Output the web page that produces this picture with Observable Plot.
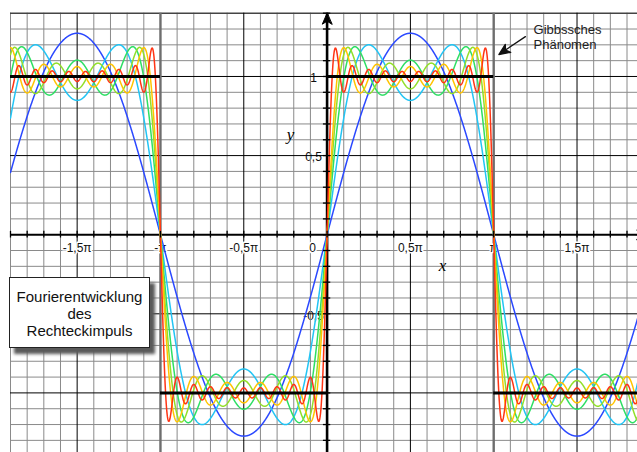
<!DOCTYPE html>
<html>
<head>
<meta charset="utf-8">
<script src="https://cdn.jsdelivr.net/npm/d3@7"></script>
<script src="https://cdn.jsdelivr.net/npm/@observablehq/plot@0.6"></script>
<style>
  html, body { margin: 0; padding: 0; background: #fff; }
  #chart { position: relative; width: 637px; height: 452px; overflow: hidden; }
  #chart svg { display: block; }
  .note {
    position: absolute; left: 9px; top: 277px; width: 141px; height: 71px;
    box-sizing: border-box; border: 1px solid #222; background: #fff;
    box-shadow: 5px 6px 3px #5a5a5a;
    font: 15px "Liberation Sans", Arial, sans-serif; color: #111;
    text-align: center; line-height: 17px; padding-top: 10px;
  }
</style>
</head>
<body>
<div id="chart"></div>
<script>
// Partial sums of the square-wave Fourier series: number of odd harmonics in each curve
const termCounts = [1, 2, 3, 4, 5, 10];
const seriesColors = ["#2a48ff", "#22c4f4", "#2edf64", "#92df2a", "#ffc400", "#ff3414"];

// Square wave (x in units of π): level on each half period
const squareStarts = [-2, -1, 0, 1];
const squareEnds = [-1, 0, 1, 2];
const squareLevels = [1, -1, 1, -1];

// Tick labels
const xTicks = [-1.5, -1, -0.5, 0.5, 1, 1.5];
const xTickLabels = ["-1,5π", "-π", "-0,5π", "0,5π", "π", "1,5π"];
const yTicks = [1, 0.5, -0.5];
const yTickLabels = ["1", "0,5", "-0,5"];

// Visible window (x in multiples of π)
const xDomain = [-1.9, 1.863];
const yDomain = [-1.3767, 1.4];

// Fourier partial sum with n odd harmonics, evaluated at x = t·π
function partialSum(n, t) {
  let s = 0;
  for (let k = 1; k <= n; k++) {
    const m = 2 * k - 1;
    s += Math.sin(m * Math.PI * t) / m;
  }
  return (4 / Math.PI) * s;
}

const samples = d3.range(xDomain[0], xDomain[1] + 0.001, 0.0015);
const curves = termCounts.flatMap(n => samples.map(t => ({t, v: partialSum(n, t), n})));

const square = squareLevels.map((v, i) => ({x1: squareStarts[i], x2: squareEnds[i], v}));

// Grid every 0.1π horizontally and every 0.1 vertically
const gridX = d3.range(-19, 19).map(i => i / 10);
const gridY = d3.range(-13, 15).map(i => i / 10);
const isHalf = v => Math.abs(v * 2 - Math.round(v * 2)) < 1e-9;
const minorX = gridX.filter(v => !isHalf(v));
const minorY = gridY.filter(v => !isHalf(v) && v < 1.35);
const halfX = gridX.filter(v => isHalf(v) && v !== 0 && Math.abs(v) !== 1);
const halfY = gridY.filter(v => isHalf(v) && v !== 0);

// Filled arrowhead with a notched back, drawn along the vector
const arrowHead = {
  draw(ctx, l) {
    const h = 11, w = 4.8, notch = 8;
    ctx.moveTo(0, 0);
    ctx.lineTo(0, -l + notch);
    ctx.moveTo(0, -l);
    ctx.lineTo(-w, -l + h);
    ctx.lineTo(0, -l + notch);
    ctx.lineTo(w, -l + h);
    ctx.closePath();
  }
};

const sans = "Liberation Sans, Arial, Helvetica, sans-serif";
const serif = "Liberation Serif, Times New Roman, serif";

const chart = Plot.plot({
  width: 637,
  height: 452,
  marginLeft: 10,
  marginRight: 0,
  marginTop: 12.7,
  marginBottom: 0,
  x: {domain: xDomain, axis: null},
  y: {domain: yDomain, axis: null},
  color: {type: "ordinal", domain: termCounts, range: seriesColors},
  style: {background: "#fff", overflow: "hidden"},
  marks: [
    // y tick labels sit beneath the grid
    Plot.text(yTicks, {x: 0, y: d => d, text: (d, i) => yTickLabels[i], dx: -13.6, dy: 2,
      fontFamily: sans, fontSize: 12, fill: "#111"}),
    // grid
    Plot.ruleX(minorX, {x: d => d, stroke: "#8a8a8a", strokeWidth: 1}),
    Plot.ruleY(minorY, {y: d => d, stroke: "#8a8a8a", strokeWidth: 1}),
    Plot.ruleY([1.4], {y: d => d, stroke: "#444", strokeWidth: 1.4}),
    Plot.ruleX(halfX, {x: d => d, stroke: "#000", strokeWidth: 1}),
    Plot.ruleY(halfY, {y: d => d, stroke: "#000", strokeWidth: 1}),
    Plot.ruleX([-1, 1], {x: d => d, stroke: "#6e6e6e", strokeWidth: 2.4}),
    // x tick labels
    Plot.text(xTicks, {x: d => d, y: 0, text: (d, i) => xTickLabels[i], dy: 13.5,
      fontFamily: sans, fontSize: 12, fill: "#111", stroke: "white", strokeWidth: 3}),
    Plot.text(["0"], {x: 0, y: 0, text: d => d, dx: -14.5, dy: 13.5,
      fontFamily: sans, fontSize: 12, fill: "#111", stroke: "white", strokeWidth: 3}),
    // axes
    Plot.ruleY([0], {y: d => d, stroke: "#000", strokeWidth: 2}),
    Plot.ruleX([0], {x: d => d, stroke: "#000", strokeWidth: 2.6}),
    // partial sums
    Plot.line(curves, {x: "t", y: "v", z: "n", stroke: "n", strokeWidth: 1.5, clip: true}),
    // square wave
    Plot.ruleY(square, {x1: "x1", x2: "x2", y: "v", stroke: "#000", strokeWidth: 3, clip: true}),
    // axis tick marks
    Plot.ruleX(gridX, {x: d => d, y1: -0.021, y2: 0.021, stroke: "#000", strokeWidth: 1.3}),
    Plot.ruleY(gridY, {y: d => d, x1: -0.022, x2: 0.022, stroke: "#000", strokeWidth: 1.3}),
    // axis arrows
    Plot.vector([0], {x: 0, y: 1.4, length: 12, rotate: 0, anchor: "end", shape: arrowHead,
      fill: "#000", stroke: "#000", strokeWidth: 1}),
    Plot.vector([0], {x: 1.925, y: 0, length: 12, rotate: 90, anchor: "end", shape: arrowHead,
      fill: "#000", stroke: "#000", strokeWidth: 1}),
    // axis names
    Plot.text(["x"], {x: 0.693, y: -0.195, text: d => d, fontFamily: serif, fontStyle: "italic", fontSize: 17, fill: "#000"}),
    Plot.text(["y"], {x: -0.22, y: 0.63, text: d => d, fontFamily: serif, fontStyle: "italic", fontSize: 17, fill: "#000"}),
    // Gibbs phenomenon annotation
    Plot.text(["Gibbssches\nPhänomen"], {x: 1.239, y: 1.337, text: d => d, textAnchor: "start", lineAnchor: "top",
      lineHeight: 1.15, fontFamily: sans, fontSize: 13, fill: "#222"}),
    Plot.vector([0], {x: 1.031, y: 1.139, length: 32, rotate: 236, anchor: "end", shape: arrowHead,
      fill: "#111", stroke: "#111", strokeWidth: 1.3})
  ]
});

const root = document.getElementById("chart");
root.appendChild(chart);
const note = document.createElement("div");
note.className = "note";
note.innerHTML = "Fourierentwicklung<br>des<br>Rechteckimpuls";
root.appendChild(note);
</script>
</body>
</html>
